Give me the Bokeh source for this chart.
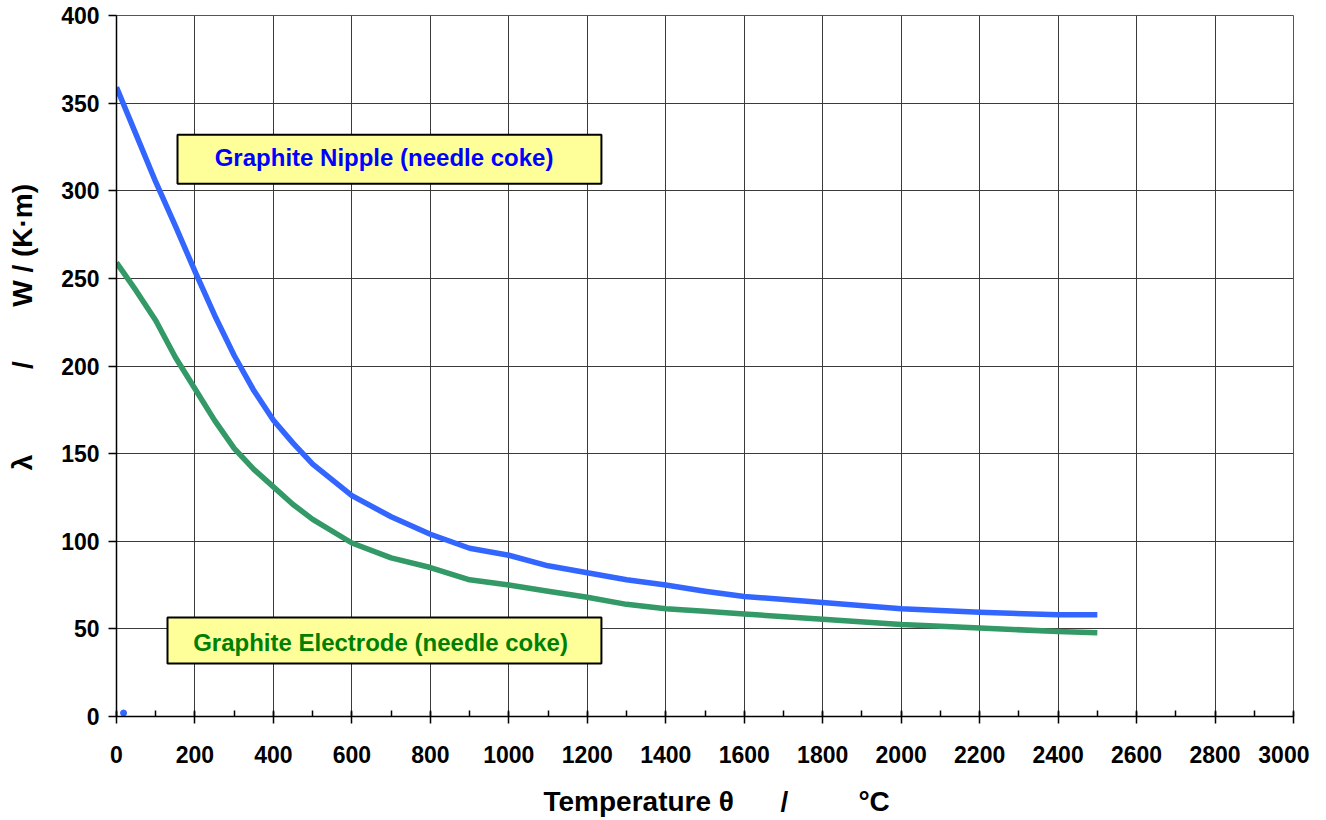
from bokeh.plotting import figure
from bokeh.embed import file_html
from bokeh.resources import INLINE
from bokeh.models import FixedTicker, Range1d
from bokeh.core.properties import value

# ---- data ----
temperature = [0, 50, 100, 150, 200, 250, 300, 350, 400, 450, 500, 600, 700, 800,
               900, 1000, 1100, 1200, 1300, 1400, 1500, 1600, 1800, 2000, 2200, 2400, 2500]
nipple_lambda = [359, 332, 305, 280, 254, 229, 206, 186, 169, 156, 144, 126, 114, 104,
                 96, 92, 86, 82, 78, 75, 71.5, 68.5, 65, 61.5, 59.5, 58, 58]
electrode_lambda = [259, 243, 226, 205, 187, 169, 153, 141, 131, 121, 112.5, 99, 90.5, 85,
                    78, 75, 71.5, 68, 64, 61.5, 60, 58.5, 55.5, 52.5, 50.5, 48.5, 47.8]
stray_x = [18]
stray_y = [2]

x_ticks = list(range(0, 3001, 200))
y_ticks = list(range(0, 401, 50))

nipple_label = "Graphite Nipple (needle coke)"
electrode_label = "Graphite Electrode (needle coke)"

FONT = "Liberation Sans"
NB = "\u00a0"

p = figure(frame_width=1177, frame_height=701,
           x_range=Range1d(0, 3000), y_range=Range1d(0, 400),
           output_backend="svg", toolbar_location=None,
           min_border_left=116, min_border_top=15, min_border_right=16, min_border_bottom=96,
           background_fill_color="white", border_fill_color="white")
p.outline_line_color = "#555555"
p.outline_line_width = 1

# grid
p.xgrid.ticker = FixedTicker(ticks=x_ticks)
p.ygrid.ticker = FixedTicker(ticks=y_ticks)
for g in (p.xgrid, p.ygrid):
    g.grid_line_color = "#3a3a3a"
    g.grid_line_width = 1

# x axis
xa = p.xaxis[0]
xa.ticker = FixedTicker(ticks=x_ticks, minor_ticks=list(range(0, 3001, 100)))
xa.major_tick_in = 5
xa.major_tick_out = 7
xa.minor_tick_in = 6
xa.minor_tick_out = 0
xa.major_label_standoff = 22
xa.axis_label = NB * 3 + "Temperature θ" + NB * 6 + "/" + NB * 9 + "°C"
xa.axis_label_standoff = 20

# y axis
ya = p.yaxis[0]
ya.ticker = FixedTicker(ticks=y_ticks)
ya.major_tick_in = 0
ya.major_tick_out = 8
ya.minor_tick_in = 0
ya.minor_tick_out = 0
ya.major_label_standoff = 9
ya.axis_label = NB * 10 + "λ" + NB * 11 + "/" + NB * 7 + "W / (K·m)"
ya.axis_label_standoff = 20

for ax in (xa, ya):
    ax.axis_line_color = "black"
    ax.axis_line_width = 1.5
    ax.major_tick_line_color = "black"
    ax.major_tick_line_width = 1.5
    ax.minor_tick_line_color = "black"
    ax.minor_tick_line_width = 1.5
    ax.major_label_text_font = FONT
    ax.major_label_text_font_style = "bold"
    ax.major_label_text_font_size = "23px"
    ax.major_label_text_color = "black"
    ax.axis_label_text_font = FONT
    ax.axis_label_text_font_style = "bold"
    ax.axis_label_text_font_size = "28px"
    ax.axis_label_text_color = "black"

# curves
p.line(temperature, nipple_lambda, line_color="#3366FF", line_width=5.5, line_join="round")
p.line(temperature, electrode_lambda, line_color="#339966", line_width=5.5, line_join="round")
p.scatter(stray_x, stray_y, marker="circle", size=6, fill_color="#3366FF", line_color="#3366FF")

# label boxes
p.quad(left=[155.5], right=[1236], top=[332], bottom=[304],
       fill_color="#FFFF99", line_color="black", line_width=2)
p.quad(left=[130], right=[1236], top=[56.5], bottom=[30.2],
       fill_color="#FFFF99", line_color="black", line_width=2)
p.text(x=[682], y=[319], text=[nipple_label], text_font=value(FONT), text_font_style="bold",
       text_font_size="24px", text_color="#0000FF", text_align="center", text_baseline="middle")
p.text(x=[673], y=[42.5], text=[electrode_label], text_font=value(FONT), text_font_style="bold",
       text_font_size="24px", text_color="#008000", text_align="center", text_baseline="middle")

open("out.html", "w").write(file_html(p, INLINE))
